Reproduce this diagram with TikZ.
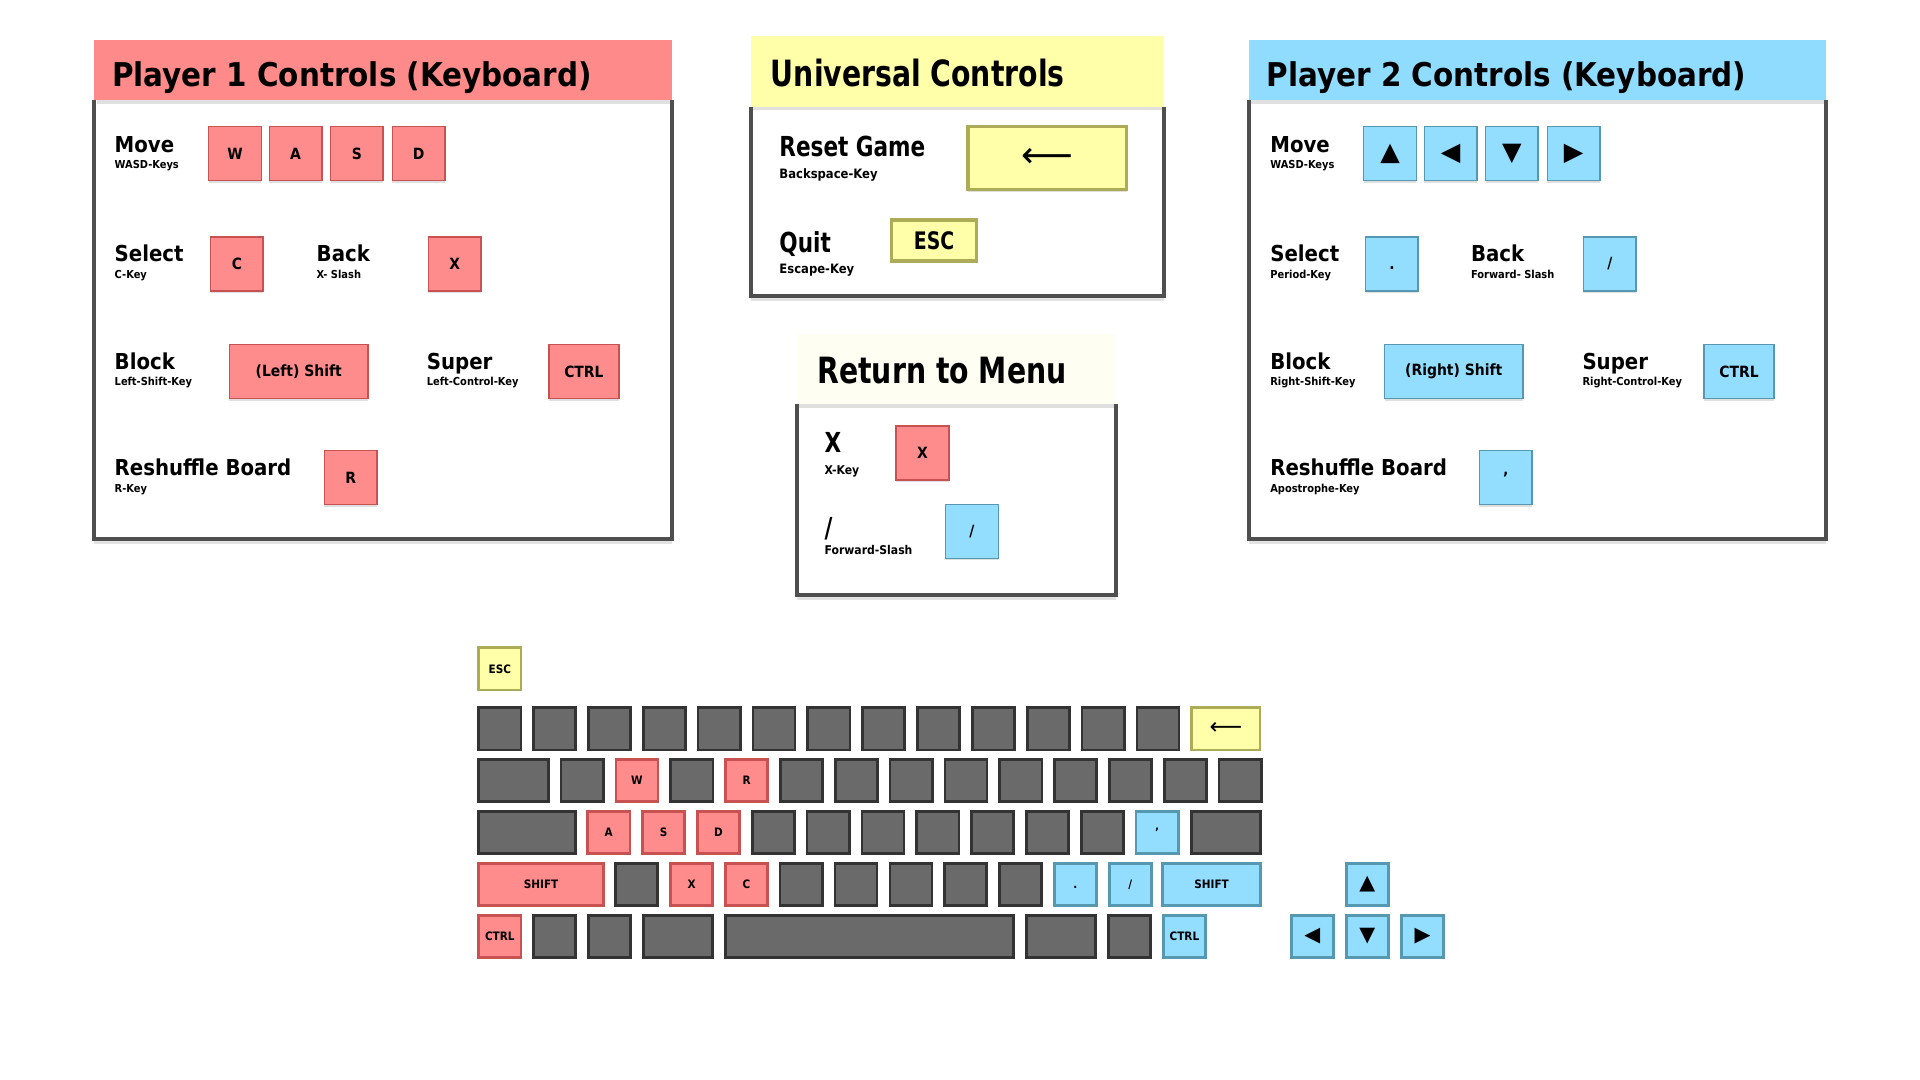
\documentclass[tikz,border=0pt]{standalone}
\usepackage{fontspec}
\setmainfont{DejaVu Sans Condensed}
\newfontfamily\narrowfont{DejaVu Sans Condensed}[FakeStretch=0.87]
\newfontfamily\shapefont{DejaVu Sans}
\usetikzlibrary{shadows}

\definecolor{headred}{HTML}{FF8A8A}
\definecolor{headblue}{HTML}{90DCFF}
\definecolor{headyellow}{HTML}{FFFFAA}
\definecolor{headcream}{HTML}{FEFEF2}
\definecolor{framegray}{HTML}{4F4F4F}
\definecolor{keyred}{HTML}{FF8C8C}
\definecolor{keyredline}{HTML}{C85252}
\definecolor{keyblue}{HTML}{93DDFF}
\definecolor{keyblueline}{HTML}{5598B0}
\definecolor{keyyellow}{HTML}{FFFFAA}
\definecolor{keyyellowline}{HTML}{ABAB58}
\definecolor{kbgray}{HTML}{6A6A6A}
\definecolor{kbline}{HTML}{333333}

\newcommand{\fsz}[1]{\fontsize{#1}{#1}\selectfont\bfseries}
\newcommand{\nsz}[1]{\narrowfont\fontsize{#1}{#1}\selectfont\bfseries}
\newcommand{\ssz}[1]{\shapefont\fontsize{#1}{#1}\selectfont}

\tikzset{
  actname/.style={anchor=base west, inner sep=0pt, font=\fsz{5.1}},
  acthint/.style={anchor=base west, inner sep=0pt, font=\fsz{2.55}},
  bigname/.style={actname, font=\nsz{6.4}},
  bighint/.style={acthint, font=\fsz{3.0}},
  paneltitle/.style={anchor=base west, inner sep=0pt, font=\fsz{7.6}},
  padkey/.style={rectangle, inner sep=0pt, minimum width=0.43cm, minimum height=0.44cm,
    line width=0.35pt, font=\fsz{3.6},
    drop shadow={shadow xshift=0pt, shadow yshift=-0.5pt, opacity=0.25}},
  redpad/.style={padkey, fill=keyred, draw=keyredline},
  bluepad/.style={padkey, fill=keyblue, draw=keyblueline},
  yellowpad/.style={padkey, fill=keyyellow, draw=keyyellowline, line width=0.75pt},
  kbkey/.style={rectangle, inner sep=0pt, minimum width=0.344cm, minimum height=0.344cm,
    line width=0.62pt, fill=kbgray, draw=kbline, font=\fsz{2.7}},
  kbred/.style={kbkey, fill=keyred, draw=keyredline},
  kbblue/.style={kbkey, fill=keyblue, draw=keyblueline},
  kbyellow/.style={kbkey, fill=keyyellow, draw=keyyellowline},
  panelbody/.style={fill=white, drop shadow={shadow xshift=0pt, shadow yshift=-1.2pt, opacity=0.22}},
  panelframe/.style={draw=framegray, line width=0.93pt}
}

\begin{document}
\begin{tikzpicture}[x=0.01cm, y=-0.01cm]
  \useasboundingbox (0,0) rectangle (1568.4,882.2);

  %player 1 panel
  \fill[panelbody] (77,33) rectangle (549,440);
  \fill[headred] (77,33) rectangle (549,82);
  \fill[black, opacity=0.12] (79,82) rectangle (547,85);
  \draw[panelframe] (77,82) -- (77,440) -- (549,440) -- (549,82);
  \node[paneltitle] (p1title) at (91,70.5) {Player 1 Controls (Keyboard)};

  \node[actname] (p1move) at (93,124.5) {Move};
  \node[acthint] (p1movehint) at (93,138) {WASD-Keys};
  \node[redpad] (p1w) at (192,125.5) {W};
  \node[redpad] (p1a) at (241.5,125.5) {A};
  \node[redpad] (p1s) at (291.5,125.5) {S};
  \node[redpad] (p1d) at (342,125.5) {D};

  \node[actname] (p1select) at (93,213.5) {Select};
  \node[acthint] (p1selecthint) at (93,227.5) {C-Key};
  \node[redpad] (p1c) at (193.5,215.5) {C};
  \node[actname] (p1back) at (258,213.5) {Back};
  \node[acthint] (p1backhint) at (258,227.5) {X- Slash};
  \node[redpad] (p1x) at (371.5,215.5) {X};

  \node[actname] (p1block) at (93,301.5) {Block};
  \node[acthint] (p1blockhint) at (93,315) {Left-Shift-Key};
  \node[redpad, minimum width=1.13cm] (p1shift) at (244,303.5) {(Left) Shift};
  \node[actname] (p1super) at (348,301.5) {Super};
  \node[acthint] (p1superhint) at (348,315) {Left-Control-Key};
  \node[redpad, minimum width=0.57cm] (p1ctrl) at (477,303.5) {CTRL};

  \node[actname] (p1shuffle) at (93,388.5) {Reshuffle Board};
  \node[acthint] (p1shufflehint) at (93,402) {R-Key};
  \node[redpad] (p1r) at (286.5,390) {R};

  %universal panel
  \fill[panelbody] (613.5,29) rectangle (951,242);
  \fill[headyellow] (613.5,29) rectangle (951,87);
  \fill[black, opacity=0.12] (615.5,87) rectangle (949,90);
  \draw[panelframe] (613.5,87) -- (613.5,242) -- (951,242) -- (951,87);
  \node[paneltitle, font=\nsz{8.4}] (unititle) at (629,70.5) {Universal Controls};

  \node[bigname] (unireset) at (636,127.5) {Reset Game};
  \node[bighint] (uniresethint) at (636,146) {Backspace-Key};
  \node[yellowpad, minimum width=1.294cm, minimum height=0.514cm, font=\ssz{8.4}] (unibksp) at (855.5,129) {⟵};
  \node[bigname] (uniquit) at (636,206) {Quit};
  \node[bighint] (uniquithint) at (636,223.5) {Escape-Key};
  \node[yellowpad, minimum width=0.694cm, minimum height=0.334cm, font=\nsz{5.6}] (uniesc) at (763,196.5) {ESC};

  %return to menu panel
  \fill[panelbody] (651,273) rectangle (912,486);
  \fill[headcream] (651,273) rectangle (912,330);
  \fill[black, opacity=0.12] (653,330) rectangle (910,333);
  \draw[panelframe] (651,330) -- (651,486) -- (912,486) -- (912,330);
  \node[paneltitle, font=\nsz{8.4}] (rettitle) at (667,313) {Return to Menu};

  \node[bigname] (retx) at (673,370) {X};
  \node[acthint, font=\fsz{2.8}] (retxhint) at (673,388) {X-Key};
  \node[redpad] (retxkey) at (753.5,370) {X};
  \node[bigname] (retslash) at (673,439) {/};
  \node[acthint, font=\fsz{2.8}] (retslashhint) at (673,453) {Forward-Slash};
  \node[bluepad] (retslashkey) at (794,434) {/};

  %player 2 panel
  \fill[panelbody] (1020,33) rectangle (1492,440);
  \fill[headblue] (1020,33) rectangle (1492,82);
  \fill[black, opacity=0.12] (1022,82) rectangle (1490,85);
  \draw[panelframe] (1020,82) -- (1020,440) -- (1492,440) -- (1492,82);
  \node[paneltitle] (p2title) at (1034,70.5) {Player 2 Controls (Keyboard)};

  \node[actname] (p2move) at (1037,124.5) {Move};
  \node[acthint] (p2movehint) at (1037,138) {WASD-Keys};
  \node[bluepad, font=\ssz{5.9}] (p2up) at (1135.5,125.5) {▲};
  \node[bluepad, font=\ssz{5.9}] (p2left) at (1185,125.5) {◀};
  \node[bluepad, font=\ssz{5.9}] (p2down) at (1235,125.5) {▼};
  \node[bluepad, font=\ssz{5.9}] (p2right) at (1285.5,125.5) {▶};

  \node[actname] (p2select) at (1037,213.5) {Select};
  \node[acthint] (p2selecthint) at (1037,227.5) {Period-Key};
  \node[bluepad] (p2period) at (1137,215.5) {\vphantom{X}.};
  \node[actname] (p2back) at (1201,213.5) {Back};
  \node[acthint] (p2backhint) at (1201,227.5) {Forward- Slash};
  \node[bluepad] (p2slash) at (1315,215.5) {/};

  \node[actname] (p2block) at (1037,301.5) {Block};
  \node[acthint] (p2blockhint) at (1037,315) {Right-Shift-Key};
  \node[bluepad, minimum width=1.13cm] (p2shift) at (1187.5,303.5) {(Right) Shift};
  \node[actname] (p2super) at (1292,301.5) {Super};
  \node[acthint] (p2superhint) at (1292,315) {Right-Control-Key};
  \node[bluepad, minimum width=0.57cm] (p2ctrl) at (1420.5,303.5) {CTRL};

  \node[actname] (p2shuffle) at (1037,388.5) {Reshuffle Board};
  \node[acthint] (p2shufflehint) at (1037,402) {Apostrophe-Key};
  \node[bluepad] (p2apos) at (1230,390) {\vphantom{X}'};

  %keyboard
  \begin{scope}[shift={(2,2)}]
  \node[kbyellow] (kbesc) at (406.3,544.3) {ESC};

  %number row
  \foreach \i in {0,...,12}
    \node[kbkey] (kbnum\i) at ({406.3+\i*44.8},593.3) {};
  \node[kbyellow, minimum width=0.558cm, font=\ssz{5.3}] (kbbksp) at (999.4,593.3) {⟵};

  %top letter row
  \node[kbkey, minimum width=0.571cm] (kbtab) at (417.6,635.7) {};
  \foreach \i in {0,2,4,5,6,7,8,9,10,11,12}
    \node[kbkey] (kbtop\i) at ({473.5+\i*44.8},635.7) {};
  \node[kbred] (kbw) at ({473.5+1*44.8},635.7) {W};
  \node[kbred] (kbr) at ({473.5+3*44.8},635.7) {R};

  %home row
  \node[kbkey, minimum width=0.788cm] (kbcaps) at (428.5,678.1) {};
  \node[kbred] (kba) at (495.3,678.1) {A};
  \node[kbred] (kbs) at ({495.3+44.8},678.1) {S};
  \node[kbred] (kbd) at ({495.3+2*44.8},678.1) {D};
  \foreach \i in {3,...,9}
    \node[kbkey] (kbhome\i) at ({495.3+\i*44.8},678.1) {};
  \node[kbblue] (kbapos) at ({495.3+10*44.8},678.1) {\vphantom{X}'};
  \node[kbkey, minimum width=0.564cm] (kbenter) at (999.7,678.1) {};

  %bottom letter row
  \node[kbred, minimum width=1.018cm] (kblshift) at (440,720.5) {SHIFT};
  \foreach \i in {0,3,4,5,6,7}
    \node[kbkey] (kbbot\i) at ({518.1+\i*44.8},720.5) {};
  \node[kbred] (kbx) at ({518.1+1*44.8},720.5) {X};
  \node[kbred] (kbc) at ({518.1+2*44.8},720.5) {C};
  \node[kbblue] (kbperiod) at ({518.1+8*44.8},720.5) {\vphantom{X}.};
  \node[kbblue] (kbslash) at ({518.1+9*44.8},720.5) {/};
  \node[kbblue, minimum width=0.803cm] (kbrshift) at (987.7,720.5) {SHIFT};

  %space row
  \node[kbred] (kblctrl) at (406.3,762.9) {CTRL};
  \node[kbkey] (kbfn) at (451.1,762.9) {};
  \node[kbkey] (kbsys) at (495.9,762.9) {};
  \node[kbkey, minimum width=0.564cm] (kblalt) at (551.7,762.9) {};
  \node[kbkey, minimum width=2.352cm] (kbspace) at (708.3,762.9) {};
  \node[kbkey, minimum width=0.564cm] (kbralt) at (864.5,762.9) {};
  \node[kbkey] (kbmenu) at (920.7,762.9) {};
  \node[kbblue] (kbrctrl) at (965.5,762.9) {CTRL};

  %arrow keys
  \node[kbblue, font=\ssz{4.8}] (kbup) at (1115,720.5) {▲};
  \node[kbblue, font=\ssz{4.8}] (kbleft) at (1070,762.9) {◀};
  \node[kbblue, font=\ssz{4.8}] (kbdown) at (1115,762.9) {▼};
  \node[kbblue, font=\ssz{4.8}] (kbright) at (1160,762.9) {▶};
  \end{scope}
\end{tikzpicture}
\end{document}
